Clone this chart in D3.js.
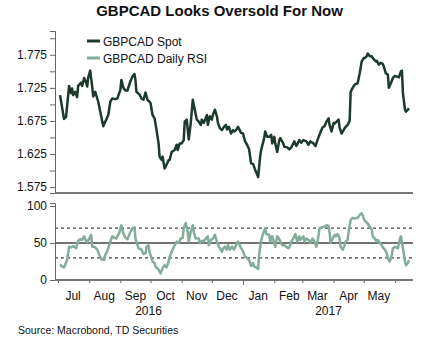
<!DOCTYPE html>
<html>
<head>
<meta charset="utf-8">
<script src="https://cdn.jsdelivr.net/npm/d3@7"></script>
<style>
  body { margin: 0; background: #fff; }
  svg { display: block; }
  text { font-family: "Liberation Sans", Arial, sans-serif; fill: #111; }
</style>
</head>
<body>
<svg id="chart" width="428" height="339"></svg>
<script>
// GBPCAD spot rate
const spotDates = [
  "2016-07-03","2016-07-07","2016-07-09","2016-07-12","2016-07-14","2016-07-15","2016-07-16","2016-07-18","2016-07-20","2016-07-21",
  "2016-07-24","2016-07-25","2016-07-27","2016-07-29","2016-07-30","2016-07-31","2016-08-02","2016-08-04","2016-08-05","2016-08-07",
  "2016-08-10","2016-08-12","2016-08-15","2016-08-17","2016-08-18","2016-08-20","2016-08-22","2016-08-24","2016-08-27","2016-08-29",
  "2016-09-01","2016-09-02","2016-09-04","2016-09-06","2016-09-08","2016-09-11","2016-09-13","2016-09-15","2016-09-16","2016-09-17",
  "2016-09-20","2016-09-22","2016-09-24","2016-09-26","2016-09-28","2016-09-30","2016-10-01","2016-10-03","2016-10-05","2016-10-07",
  "2016-10-09","2016-10-10","2016-10-12","2016-10-13","2016-10-15","2016-10-17","2016-10-19","2016-10-20","2016-10-22","2016-10-25",
  "2016-10-27","2016-10-28","2016-10-30","2016-11-01","2016-11-03","2016-11-04","2016-11-06","2016-11-08","2016-11-10","2016-11-12",
  "2016-11-14","2016-11-16","2016-11-18","2016-11-20","2016-11-21","2016-11-23","2016-11-26","2016-11-27","2016-11-29","2016-12-01",
  "2016-12-02","2016-12-04","2016-12-06","2016-12-07","2016-12-09","2016-12-11","2016-12-13","2016-12-15","2016-12-16","2016-12-18",
  "2016-12-20","2016-12-22","2016-12-23","2016-12-25","2016-12-27","2016-12-30","2017-01-01","2017-01-03","2017-01-05","2017-01-07",
  "2017-01-09","2017-01-11","2017-01-13","2017-01-14","2017-01-16","2017-01-18","2017-01-19","2017-01-22","2017-01-23","2017-01-25",
  "2017-01-27","2017-01-29","2017-01-30","2017-02-01","2017-02-02","2017-02-04","2017-02-06","2017-02-07","2017-02-10","2017-02-11",
  "2017-02-14","2017-02-16","2017-02-18","2017-02-21","2017-02-23","2017-02-26","2017-02-28","2017-03-02","2017-03-05","2017-03-07",
  "2017-03-09","2017-03-12","2017-03-14","2017-03-16","2017-03-18","2017-03-21","2017-03-23","2017-03-25","2017-03-27","2017-03-28",
  "2017-03-30","2017-04-01","2017-04-02","2017-04-04","2017-04-06","2017-04-07","2017-04-09","2017-04-11","2017-04-12","2017-04-15",
  "2017-04-17","2017-04-18","2017-04-20","2017-04-22","2017-04-25","2017-04-27","2017-04-29","2017-05-01","2017-05-02","2017-05-04",
  "2017-05-05","2017-05-07","2017-05-09","2017-05-10","2017-05-13","2017-05-14","2017-05-16","2017-05-18","2017-05-20","2017-05-21",
  "2017-05-23","2017-05-25","2017-05-26","2017-05-28","2017-05-30","2017-06-01","2017-06-03","2017-06-05","2017-06-07","2017-06-08",
  "2017-06-09","2017-06-11","2017-06-12","2017-06-14","2017-06-15"
];
const spotValues = [
  1.714,1.678,1.681,1.728,1.717,1.724,1.714,1.719,1.711,1.728,
  1.733,1.728,1.740,1.733,1.727,1.740,1.751,1.727,1.712,1.719,
  1.704,1.689,1.667,1.674,1.677,1.684,1.704,1.709,1.708,1.709,
  1.722,1.737,1.725,1.721,1.721,1.735,1.742,1.746,1.737,1.719,
  1.715,1.709,1.707,1.718,1.707,1.704,1.702,1.684,1.679,1.661,
  1.641,1.621,1.616,1.621,1.603,1.609,1.616,1.616,1.628,1.631,
  1.639,1.631,1.641,1.641,1.646,1.674,1.677,1.647,1.672,1.707,
  1.692,1.677,1.674,1.669,1.677,1.672,1.684,1.669,1.682,1.677,
  1.684,1.692,1.682,1.672,1.664,1.661,1.666,1.669,1.662,1.666,
  1.656,1.661,1.659,1.661,1.666,1.657,1.656,1.644,1.639,1.632,
  1.611,1.610,1.601,1.598,1.590,1.621,1.631,1.649,1.659,1.651,
  1.651,1.654,1.641,1.651,1.641,1.628,1.646,1.649,1.641,1.636,
  1.635,1.632,1.635,1.644,1.637,1.646,1.642,1.646,1.644,1.639,
  1.644,1.641,1.637,1.646,1.654,1.665,1.667,1.674,1.679,1.669,
  1.659,1.672,1.671,1.674,1.677,1.665,1.656,1.661,1.664,1.669,
  1.675,1.719,1.725,1.730,1.732,1.747,1.765,1.770,1.770,1.773,
  1.777,1.773,1.773,1.770,1.765,1.766,1.760,1.763,1.761,1.757,
  1.747,1.745,1.725,1.732,1.740,1.743,1.742,1.741,1.750,1.751,
  1.717,1.692,1.689,1.692,1.694
];

// GBPCAD daily RSI
const rsiDates = [
  "2016-07-03","2016-07-05","2016-07-07","2016-07-10","2016-07-12","2016-07-14","2016-07-16","2016-07-19","2016-07-21","2016-07-23",
  "2016-07-25","2016-07-27","2016-07-29","2016-07-30","2016-08-01","2016-08-03","2016-08-04","2016-08-06","2016-08-09","2016-08-11",
  "2016-08-13","2016-08-16","2016-08-17","2016-08-19","2016-08-22","2016-08-24","2016-08-26","2016-08-28","2016-08-31","2016-09-02",
  "2016-09-04","2016-09-06","2016-09-08","2016-09-11","2016-09-13","2016-09-15","2016-09-16","2016-09-19","2016-09-22","2016-09-24",
  "2016-09-26","2016-09-27","2016-09-29","2016-09-30","2016-10-03","2016-10-05","2016-10-06","2016-10-09","2016-10-11","2016-10-13",
  "2016-10-15","2016-10-17","2016-10-19","2016-10-20","2016-10-22","2016-10-25","2016-10-27","2016-10-29","2016-10-31","2016-11-02",
  "2016-11-03","2016-11-05","2016-11-07","2016-11-08","2016-11-10","2016-11-12","2016-11-13","2016-11-15","2016-11-18","2016-11-19",
  "2016-11-21","2016-11-23","2016-11-25","2016-11-27","2016-11-28","2016-11-30","2016-12-02","2016-12-04","2016-12-06","2016-12-08",
  "2016-12-11","2016-12-12","2016-12-14","2016-12-16","2016-12-17","2016-12-19","2016-12-21","2016-12-23","2016-12-25","2016-12-27",
  "2016-12-30","2017-01-01","2017-01-03","2017-01-04","2017-01-07","2017-01-09","2017-01-11","2017-01-12","2017-01-14","2017-01-16",
  "2017-01-17","2017-01-19","2017-01-21","2017-01-23","2017-01-24","2017-01-27","2017-01-28","2017-01-30","2017-02-01","2017-02-02",
  "2017-02-04","2017-02-06","2017-02-09","2017-02-11","2017-02-13","2017-02-15","2017-02-16","2017-02-18","2017-02-20","2017-02-22",
  "2017-02-24","2017-02-26","2017-02-27","2017-03-02","2017-03-03","2017-03-05","2017-03-08","2017-03-09","2017-03-11","2017-03-13",
  "2017-03-15","2017-03-17","2017-03-18","2017-03-20","2017-03-23","2017-03-25","2017-03-27","2017-03-28","2017-03-29","2017-03-31",
  "2017-04-02","2017-04-03","2017-04-05","2017-04-07","2017-04-08","2017-04-10","2017-04-12","2017-04-13","2017-04-15","2017-04-16",
  "2017-04-18","2017-04-20","2017-04-22","2017-04-25","2017-04-27","2017-04-29","2017-04-30","2017-05-02","2017-05-04","2017-05-06",
  "2017-05-09","2017-05-10","2017-05-12","2017-05-14","2017-05-15","2017-05-17","2017-05-19","2017-05-20","2017-05-22","2017-05-24",
  "2017-05-25","2017-05-27","2017-05-29","2017-05-30","2017-06-01","2017-06-02","2017-06-04","2017-06-06","2017-06-07","2017-06-09",
  "2017-06-11","2017-06-12","2017-06-14","2017-06-15"
];
const rsiValues = [
  21,18,17,27,45,44,46,43,53,55,
  54,59,52,51,56,61,45,45,41,34,
  28,27,34,39,52,59,57,56,64,74,
  63,57,55,65,70,71,56,43,41,35,
  36,45,47,38,25,23,18,14,9,16,
  20,17,25,31,38,47,52,50,56,57,
  70,77,65,52,65,74,65,56,56,50,
  53,52,56,59,47,54,56,61,52,45,
  38,42,45,41,47,41,45,41,47,52,
  43,39,31,31,27,19,23,18,17,15,
  34,54,63,70,62,61,52,59,50,45,
  59,55,47,47,45,43,44,52,56,62,
  52,59,54,59,52,56,53,50,56,52,
  45,59,70,71,72,74,73,65,50,56,
  61,59,62,57,45,41,47,52,54,65,
  81,84,83,84,88,90,87,80,78,74,
  68,59,56,52,54,50,47,44,41,36,
  29,25,34,43,45,44,43,56,59,43,
  25,20,23,27
];

const monthLabels = ["Jul","Aug","Sep","Oct","Nov","Dec","Jan","Feb","Mar","Apr","May"];
const yearLabels = ["2016","2017"];
const spotTicks = [1.575,1.6,1.625,1.65,1.675,1.7,1.725,1.75,1.775,1.8];
const spotLabelled = [1.575,1.625,1.675,1.725,1.775];
const rsiTicks = [0,50,100];
const rsiBands = [30,70];
const seriesNames = ["GBPCAD Spot","GBPCAD Daily RSI"];

const COL_SPOT = "#1c3a2c";
const COL_RSI = "#83ac9a";
const AXIS = "#666";
const FONT = "'Liberation Sans', Arial, sans-serif";

const parse = d3.timeParse("%Y-%m-%d");
const spot = spotDates.map((d,i) => ({date: parse(d), value: spotValues[i]}));
const rsi = rsiDates.map((d,i) => ({date: parse(d), value: rsiValues[i]}));

const svg = d3.select("#chart");
const L = 55, R = 413;

const x = d3.scaleTime()
  .domain([new Date(2016,5,28), new Date(2017,5,19)])
  .range([L, R]);
const yTop = d3.scaleLinear().domain([1.566, 1.811]).range([193, 31]);
const yBot = d3.scaleLinear().domain([0, 104]).range([280, 203]);

// title
svg.append("text")
  .attr("x", 219.5).attr("y", 16)
  .attr("text-anchor", "middle")
  .style("font-size", "15px").style("font-weight", "bold")
  .text("GBPCAD Looks Oversold For Now");

// ---- upper panel: spot ----
const gTopAxis = svg.append("g")
  .attr("transform", `translate(${L},0)`)
  .call(d3.axisLeft(yTop).tickValues(spotTicks).tickSize(5).tickPadding(3)
    .tickFormat(d => spotLabelled.some(v => Math.abs(v - d) < 1e-9) ? d3.format(".3f")(d) : ""));
gTopAxis.select(".domain").attr("stroke", AXIS);
gTopAxis.selectAll(".tick line").attr("stroke", AXIS);
gTopAxis.selectAll("text").style("font-size", "12px").attr("fill", "#111").style("font-family", FONT);

svg.append("line")
  .attr("x1", L).attr("x2", R).attr("y1", yTop(1.566)).attr("y2", yTop(1.566))
  .attr("stroke", "#777").attr("stroke-width", 2);

svg.append("path")
  .datum(spot)
  .attr("fill", "none").attr("stroke", COL_SPOT).attr("stroke-width", 2.5)
  .attr("stroke-linejoin", "round")
  .attr("d", d3.line().x(d => x(d.date)).y(d => yTop(d.value)));

// legend
const legend = svg.append("g");
[COL_SPOT, COL_RSI].forEach((c, i) => {
  const yy = 41 + i * 17;
  legend.append("line").attr("x1", 87).attr("x2", 100).attr("y1", yy).attr("y2", yy)
    .attr("stroke", c).attr("stroke-width", 3);
  legend.append("text").attr("x", 103).attr("y", yy + 4.5)
    .style("font-size", "12px").text(seriesNames[i]);
});

// ---- lower panel: RSI ----
rsiBands.forEach(v => {
  svg.append("line")
    .attr("x1", L).attr("x2", R).attr("y1", yBot(v)).attr("y2", yBot(v))
    .attr("stroke", "#444").attr("stroke-width", 1.2).attr("stroke-dasharray", "3,3");
});
svg.append("line")
  .attr("x1", L).attr("x2", R).attr("y1", yBot(50)).attr("y2", yBot(50))
  .attr("stroke", "#444").attr("stroke-width", 1.5);

svg.append("path")
  .datum(rsi)
  .attr("fill", "none").attr("stroke", COL_RSI).attr("stroke-width", 2.5)
  .attr("stroke-linejoin", "round")
  .attr("d", d3.line().x(d => x(d.date)).y(d => yBot(d.value)));

const gBotAxis = svg.append("g")
  .attr("transform", `translate(${L},0)`)
  .call(d3.axisLeft(yBot).tickValues(rsiTicks).tickSize(5).tickPadding(3));
gBotAxis.select(".domain").attr("stroke", AXIS);
gBotAxis.selectAll(".tick line").attr("stroke", AXIS);
gBotAxis.selectAll("text").style("font-size", "12px").attr("fill", "#111").style("font-family", FONT);

// time axis: month boundaries as ticks, longer tick at the year change
const monthStarts = d3.timeMonth.range(new Date(2016,6,1), new Date(2017,5,2));
const gX = svg.append("g")
  .attr("transform", "translate(0,280)")
  .call(d3.axisBottom(x).tickValues(monthStarts).tickSize(3).tickFormat(""));
gX.select(".domain").attr("stroke", "#777").attr("stroke-width", 2).attr("d", `M${L},0H${R}`);
gX.selectAll(".tick line").attr("stroke", AXIS)
  .attr("y2", d => d.getMonth() === 0 ? 5 : 3);

monthStarts.slice(0, monthLabels.length).forEach((m, i) => {
  const mid = new Date(m.getFullYear(), m.getMonth(), 16);
  svg.append("text")
    .attr("x", x(mid)).attr("y", 299.5)
    .attr("text-anchor", "middle")
    .style("font-size", "12px")
    .text(monthLabels[i]);
});

// year labels under the middle of each year's months
[new Date(2016,8,29), new Date(2017,2,27)].forEach((d, i) => {
  svg.append("text")
    .attr("x", x(d)).attr("y", 314.5)
    .attr("text-anchor", "middle")
    .style("font-size", "12px")
    .text(yearLabels[i]);
});

svg.append("text")
  .attr("x", 18).attr("y", 334)
  .style("font-size", "10.5px")
  .text("Source: Macrobond, TD Securities");
</script>
</body>
</html>
